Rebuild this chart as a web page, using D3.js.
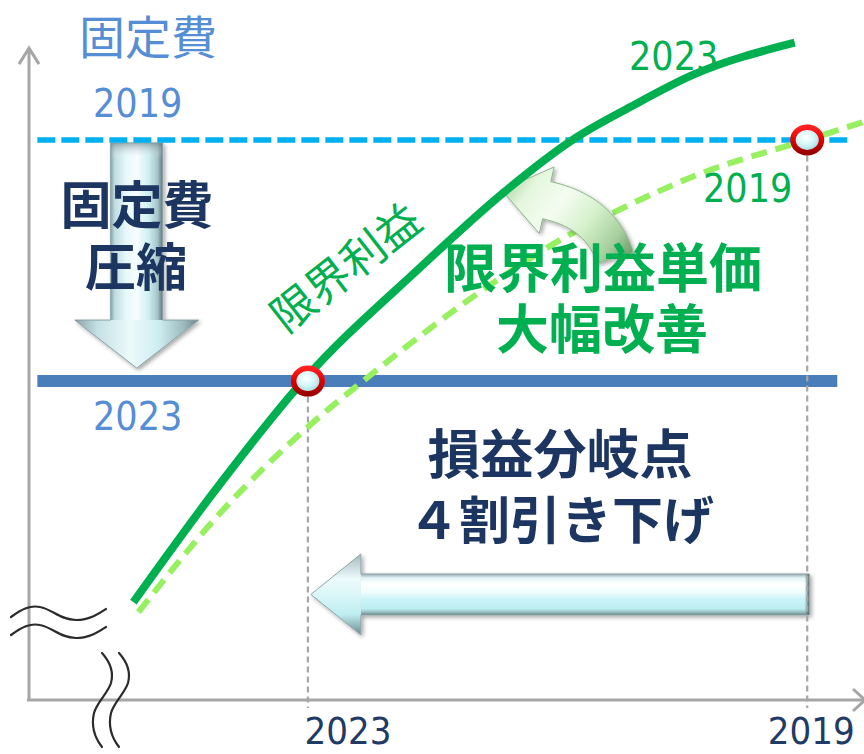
<!DOCTYPE html>
<html>
<head>
<meta charset="utf-8">
<script src="https://cdn.jsdelivr.net/npm/d3@7"></script>
<style>
  html, body { margin: 0; padding: 0; background: #fff; }
  svg { display: block; }
  .num { font-family: "DejaVu Sans Condensed", "DejaVu Sans", sans-serif; font-stretch: condensed; }
  .jp  { font-family: "Noto Sans CJK JP", "Noto Sans CJK SC", sans-serif; }
</style>
</head>
<body>
<svg id="chart" width="864" height="754"></svg>
<script>
// Marginal profit curves: sales volume (x) vs. amount (y), arbitrary units
const volume2023 = [12.5, 22.3, 32.8, 46.8, 56.8, 65.1, 72.0, 79.5, 91.7];
const margin2023 = [14.6, 31.3, 47.6, 64.5, 75.7, 83.6, 88.5, 93.3, 98.1];
const volume2019 = [13.1, 22.9, 33.9, 40.8, 56.1, 65.1, 69.9, 80.7, 93.2, 100];
const margin2019 = [13.1, 27.9, 41.3, 48.4, 62.7, 69.7, 72.7, 78.7, 83.6, 86.3];

// Fixed cost levels and break-even volumes
const fixedCostYears = ["2019", "2023"];
const fixedCost = [83.6, 47.6];
const breakEvenYears = ["2023", "2019"];
const breakEven = [33.4, 93.2];

// Curved "unit margin improvement" arrow anchors (data units)
const shiftTail = [70.2, 66.0];
const shiftBend = [68.5, 72.8];
const shiftBase = [62.0, 74.6];
const shiftTip  = [56.6, 76.1];

const W = 864, H = 754;
const svg = d3.select("#chart");

const x = d3.scaleLinear().domain([0, 100]).range([29, 864]);
const y = d3.scaleLinear().domain([0, 100]).range([700, 30]);

const defs = svg.append("defs");

function linGrad(id, x1, y1, x2, y2, stops) {
  const g = defs.append("linearGradient").attr("id", id)
    .attr("gradientUnits", "userSpaceOnUse")
    .attr("x1", x1).attr("y1", y1).attr("x2", x2).attr("y2", y2);
  stops.forEach(([o, c, a]) => g.append("stop").attr("offset", o).attr("stop-color", c)
    .attr("stop-opacity", a === undefined ? 1 : a));
  return g;
}

// soft shadow for the 3D arrows
const shadow = defs.append("filter").attr("id", "shadow")
  .attr("x", "-20%").attr("y", "-20%").attr("width", "140%").attr("height", "140%");
shadow.append("feGaussianBlur").attr("in", "SourceAlpha").attr("stdDeviation", 2).attr("result", "b");
shadow.append("feOffset").attr("dx", 2).attr("dy", 2).attr("result", "o");
shadow.append("feComponentTransfer").attr("in", "o").attr("result", "s")
  .append("feFuncA").attr("type", "linear").attr("slope", 0.35);
const fm = shadow.append("feMerge");
fm.append("feMergeNode").attr("in", "s");
fm.append("feMergeNode").attr("in", "SourceGraphic");

// ---------- axes ----------
const axisColor = "#a6a6a6";
const yAxisTop = 97.3;

svg.append("line")
  .attr("x1", x(0)).attr("x2", x(0))
  .attr("y1", y(0)).attr("y2", y(yAxisTop))
  .attr("stroke", axisColor).attr("stroke-width", 3);
svg.append("path")
  .attr("d", `M${x(0) - 10},${y(yAxisTop) + 16} L${x(0)},${y(yAxisTop)} L${x(0) + 10},${y(yAxisTop) + 16}`)
  .attr("fill", "none").attr("stroke", axisColor).attr("stroke-width", 3);

const xAxis = d3.axisBottom(x)
  .tickValues(breakEven)
  .tickFormat((d, i) => breakEvenYears[i])
  .tickSize(0).tickSizeOuter(0).tickPadding(0);
const gx = svg.append("g").attr("transform", `translate(0,${y(0)})`).call(xAxis);
gx.select(".domain").attr("stroke", axisColor).attr("stroke-width", 3)
  .attr("d", `M${x(-0.25)},0H${x(100)}`);
gx.selectAll(".tick text")
  .attr("class", "num")
  .attr("fill", "#1f3b66")
  .attr("font-size", 38)
  .attr("text-anchor", "start")
  .attr("dy", null)
  .attr("y", 44)
  .attr("x", (d, i) => i === 0 ? -4 : -40);
svg.append("path")
  .attr("d", `M${x(100) - 11},${y(0) - 11} L${x(100) + 1},${y(0)} L${x(100) - 11},${y(0) + 11}`)
  .attr("fill", "none").attr("stroke", axisColor).attr("stroke-width", 3);

// axis break marks near the origin
const brk = svg.append("g").attr("transform", `translate(${x(0)},${y(0)})`)
  .attr("fill", "none").attr("stroke", "#2b2b2b").attr("stroke-width", 2.2).attr("stroke-linecap", "round");
[0, 18].forEach(dy => brk.append("path")
  .attr("d", `M-18,${-83 + dy} C-7,${-91 + dy} 1,${-95 + dy} 11,${-93 + dy} C23,${-91 + dy} 31,${-80 + dy} 47,${-80 + dy} C61,${-80 + dy} 71,${-87 + dy} 77,${-91 + dy}`));
[0, 17].forEach(dx => brk.append("path")
  .attr("d", `M${73 + dx},-47 C${81 + dx},-38 ${85 + dx},-28 ${82 + dx},-17 C${79 + dx},-7 ${68 + dx},2 ${65 + dx},13 C${62 + dx},26 ${66 + dx},38 ${73 + dx},47`));

// ---------- 3D arrows (fixed cost down, break-even left) ----------
function downArrow(cx, top, tip) {
  const hw = 26, hh = 62, hl = 48;
  const g = svg.append("g").attr("filter", "url(#shadow)");
  linGrad("dShaft", cx - hw, 0, cx + hw, 0, [
    [0, "#8ea4a9"], [0.08, "#c0dde2"], [0.3, "#e7f9fb"], [0.5, "#f6feff"],
    [0.72, "#d0f0f3"], [0.9, "#a6c4c9"], [1, "#5f767b"]]);
  linGrad("dHead", cx - hh, 0, cx + hh, 0, [
    [0, "#8aa0a5"], [0.18, "#c4e0e4"], [0.45, "#edfafb"], [0.68, "#cdedf0"],
    [0.88, "#9dbabe"], [1, "#6b8287"]]);
  linGrad("dTop", 0, top, 0, top + 16, [[0, "#5d7378", 0.55], [1, "#ffffff", 0]]);
  g.append("rect").attr("x", cx - hw).attr("y", top).attr("width", 2 * hw)
    .attr("height", tip - hl - top).attr("fill", "url(#dShaft)");
  g.append("path").attr("d", `M${cx - hh},${tip - hl} L${cx + hh},${tip - hl} L${cx},${tip} Z`)
    .attr("fill", "url(#dHead)");
  g.append("rect").attr("x", cx - hw).attr("y", top).attr("width", 2 * hw)
    .attr("height", 16).attr("fill", "url(#dTop)");
  g.append("path")
    .attr("d", `M${cx - hw},${top} L${cx + hw},${top} L${cx + hw},${tip - hl} L${cx + hh},${tip - hl} L${cx},${tip} L${cx - hh},${tip - hl} L${cx - hw},${tip - hl} Z`)
    .attr("fill", "none").attr("stroke", "#8aa2a7").attr("stroke-width", 1);
}

function leftArrow(tail, tip, cy) {
  const sh = 20.5, hh = 40.5, hl = 50;
  const g = svg.append("g").attr("filter", "url(#shadow)");
  linGrad("lShaft", 0, cy - sh, 0, cy + sh, [
    [0, "#98aeb2"], [0.1, "#e4f5f7"], [0.25, "#ffffff"], [0.45, "#effcfd"],
    [0.6, "#cdf5f8"], [0.85, "#bcedf1"], [0.95, "#8eb1b6"], [1, "#5d7a80"]]);
  linGrad("lHead", 0, cy - hh, 0, cy + hh, [
    [0, "#a3b9bd"], [0.3, "#edfafb"], [0.5, "#dcf7f9"], [0.75, "#bdecf0"], [1, "#6d8a90"]]);
  linGrad("lTail", tail - 5, 0, tail, 0, [[0, "#8fb3b8", 0], [1, "#1f3a3f", 0.95]]);
  g.append("rect").attr("x", tip + hl).attr("y", cy - sh)
    .attr("width", tail - tip - hl).attr("height", 2 * sh).attr("fill", "url(#lShaft)");
  g.append("path").attr("d", `M${tip + hl},${cy - hh} L${tip + hl},${cy + hh} L${tip},${cy} Z`)
    .attr("fill", "url(#lHead)");
  g.append("rect").attr("x", tail - 5).attr("y", cy - sh).attr("width", 5)
    .attr("height", 2 * sh).attr("fill", "url(#lTail)");
  g.append("path")
    .attr("d", `M${tip},${cy} L${tip + hl},${cy - hh} L${tip + hl},${cy - sh} L${tail},${cy - sh} L${tail},${cy + sh} L${tip + hl},${cy + sh} L${tip + hl},${cy + hh} Z`)
    .attr("fill", "none").attr("stroke", "#8fa5a9").attr("stroke-width", 1);
}

downArrow(x(12.9), y(fixedCost[0]) + 3, y(fixedCost[1]) - 13);
leftArrow(x(breakEven[1]) + 2, x(breakEven[0]) + 3, y(15.75));

// ---------- fixed cost levels ----------
svg.append("line")
  .attr("x1", x(1)).attr("x2", x(98))
  .attr("y1", y(fixedCost[0])).attr("y2", y(fixedCost[0]))
  .attr("stroke", "#00b0f0").attr("stroke-width", 5.5).attr("stroke-dasharray", "18,6");
svg.append("line")
  .attr("x1", x(1)).attr("x2", x(96.8))
  .attr("y1", y(fixedCost[1])).attr("y2", y(fixedCost[1]))
  .attr("stroke", "#4a7ebb").attr("stroke-width", 12);

// ---------- break-even guides ----------
const ry = 15.5, rx = 17;
breakEven.forEach((b, i) => {
  svg.append("line")
    .attr("x1", x(b)).attr("x2", x(b))
    .attr("y1", y(fixedCost[1 - i]) + ry).attr("y2", y(-1.2))
    .attr("stroke", "#a6a6a6").attr("stroke-width", 2.2).attr("stroke-dasharray", "6,4");
});

// ---------- marginal profit curves ----------
const line = d3.line().x(d => x(d[0])).y(d => y(d[1])).curve(d3.curveMonotoneX);

svg.append("path")
  .datum(d3.zip(volume2019, margin2019))
  .attr("d", line)
  .attr("fill", "none").attr("stroke", "#96f060").attr("stroke-width", 6)
  .attr("stroke-dasharray", "16,9");

// curved arrow showing the unit margin improvement
(function () {
  const P = p => [x(p[0]), y(p[1])];
  const p0 = P(shiftTail), c = P(shiftBend), p1 = P(shiftBase), tp = P(shiftTip);
  const halfW = 19, headHalf = 34;
  const right = [], left = [];
  for (let i = 0; i <= 24; i++) {
    const t = i / 24;
    const px = (1 - t) * (1 - t) * p0[0] + 2 * (1 - t) * t * c[0] + t * t * p1[0];
    const py = (1 - t) * (1 - t) * p0[1] + 2 * (1 - t) * t * c[1] + t * t * p1[1];
    let dx = 2 * (1 - t) * (c[0] - p0[0]) + 2 * t * (p1[0] - c[0]);
    let dy = 2 * (1 - t) * (c[1] - p0[1]) + 2 * t * (p1[1] - c[1]);
    const L = Math.hypot(dx, dy); dx /= L; dy /= L;
    right.push([px - dy * halfW, py + dx * halfW]);
    left.push([px + dy * halfW, py - dx * halfW]);
  }
  let hx = tp[0] - p1[0], hy = tp[1] - p1[1];
  const HL = Math.hypot(hx, hy); hx /= HL; hy /= HL;
  const barbR = [p1[0] - hy * headHalf, p1[1] + hx * headHalf];
  const barbL = [p1[0] + hy * headHalf, p1[1] - hx * headHalf];
  const pts = right.concat([barbR, tp, barbL], left.reverse());
  const bx = d3.extent(pts, d => d[0]), by = d3.extent(pts, d => d[1]);
  linGrad("cArrow", bx[0], by[0], bx[1], by[1], [
    [0, "#8fc088"], [0.22, "#e4f7dd"], [0.42, "#f4fcf1"], [0.62, "#d6f1cc"],
    [0.82, "#a7cf9f"], [1, "#5f8a5c"]]);
  svg.append("path")
    .attr("d", d3.line().curve(d3.curveLinearClosed)(pts))
    .attr("fill", "url(#cArrow)").attr("stroke", "#8db58a").attr("stroke-width", 1)
    .attr("filter", "url(#shadow)");
})();

svg.append("path")
  .datum(d3.zip(volume2023, margin2023))
  .attr("d", line)
  .attr("fill", "none").attr("stroke", "#00b050").attr("stroke-width", 8)
  .attr("stroke-linecap", "butt");

// ---------- break-even markers ----------
const mFill = defs.append("radialGradient").attr("id", "mFill")
  .attr("cx", "0.45").attr("cy", "0.4").attr("r", "0.6");
[[0, "#ffffff"], [0.45, "#d8f7f9"], [1, "#98d6dc"]].forEach(([o, c]) =>
  mFill.append("stop").attr("offset", o).attr("stop-color", c));
const mRing = defs.append("linearGradient").attr("id", "mRing")
  .attr("x1", 0).attr("y1", 0).attr("x2", 0).attr("y2", 1);
[[0, "#ff2020"], [0.5, "#e00000"], [1, "#9a0000"]].forEach(([o, c]) =>
  mRing.append("stop").attr("offset", o).attr("stop-color", c));

breakEven.forEach((b, i) => {
  svg.append("ellipse")
    .attr("cx", x(b)).attr("cy", y(fixedCost[1 - i]))
    .attr("rx", rx - 2.75).attr("ry", ry - 2.75)
    .attr("fill", "url(#mFill)").attr("stroke", "url(#mRing)").attr("stroke-width", 5.5);
});

// ---------- labels ----------
const txt = (s, px, py, opts) => {
  const t = svg.append("text").text(s).attr("x", px).attr("y", py);
  Object.entries(opts).forEach(([k, v]) => t.attr(k, v));
  return t;
};

// two-line callout: one text element, one tspan per line
const callout = (lines, opts) => {
  const t = svg.append("text").attr("class", "jp").attr("font-weight", 700)
    .attr("text-anchor", "middle").attr("dominant-baseline", "central")
    .attr("fill", opts.fill);
  lines.forEach(([s, px, py, fs]) => t.append("tspan")
    .attr("x", px).attr("y", py).attr("font-size", fs).text(s));
  return t;
};

txt("固定費", 148, 34, { class: "jp", "font-size": 46, fill: "#558ed5", "text-anchor": "middle", "dominant-baseline": "central" });

fixedCostYears.forEach((yr, i) => {
  txt(yr, x(0) + 64, i === 0 ? y(fixedCost[0]) - 23 : y(fixedCost[1]) + 49,
    { class: "num", "font-size": 39, fill: "#558ed5" });
});
txt("2023", 629, 70, { class: "num", "font-size": 39, fill: "#00b050" });
txt("2019", 703, 202, { class: "num", "font-size": 39, fill: "#00b050" });

txt("限界利益", 0, 0, { class: "jp", "font-size": 44, fill: "#00b050", "text-anchor": "middle",
  "dominant-baseline": "central", transform: "translate(344,265) rotate(-38)" });

const navy = "#1c3661";
callout([["固定費", 137, 202, 51], ["圧縮", 136, 264, 51]], { fill: navy });
callout([["限界利益単価", 603, 265, 53], ["大幅改善", 602, 326, 53]], { fill: "#00b050" });
callout([["損益分岐点", 560, 451, 53], ["４割引き下げ", 561, 517, 51]], { fill: navy });
</script>
</body>
</html>
